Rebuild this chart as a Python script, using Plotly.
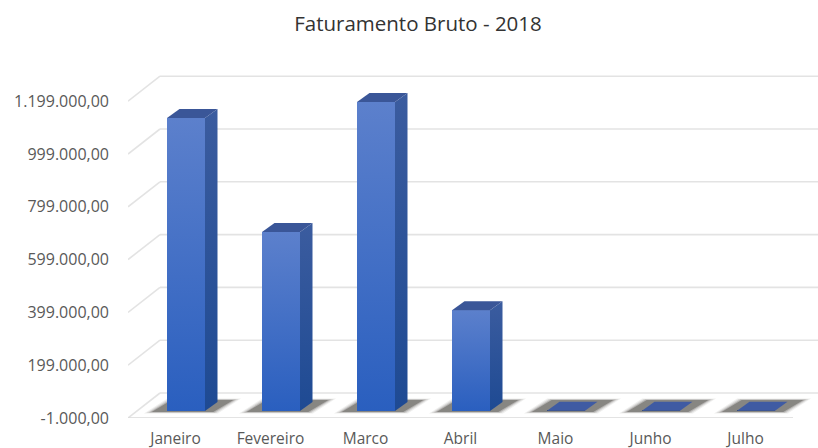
import plotly.graph_objects as go

categories = ["Janeiro", "Fevereiro", "Marco", "Abril", "Maio", "Junho", "Julho"]
faturamento = [1109000, 677000, 1169000, 381000, 0, 0, 0]
y_ticks = [-1000, 199000, 399000, 599000, 799000, 999000, 1199000]
y_labels = ["-1.000,00", "199.000,00", "399.000,00", "599.000,00", "799.000,00", "999.000,00", "1.199.000,00"]
title_text = "Faturamento Bruto - 2018"

W, H = 818, 448
LEFT, BOTTOM, TOP = 128, 418, 60
XS = 95.0            # px per category
YS = 52.8 / 200000   # px per value unit
YMIN = -1000
XMIN = -0.5
XMAX = XMIN + (W - LEFT) / XS
YMAX = YMIN + (BOTTOM - TOP) / YS

def dx(p):
    return p / XS

def dy(p):
    return p / YS

GRID = "#E3E3E3"
traces = []

def line(xs, ys, color=GRID, width=1.6, clip=True):
    traces.append(go.Scatter(x=xs, y=ys, mode="lines", hoverinfo="skip", cliponaxis=clip,
                             line=dict(color=color, width=width), showlegend=False))

def poly(xs, ys, color=None, gradient=None):
    kw = dict(fillgradient=gradient) if gradient else dict(fillcolor=color)
    traces.append(go.Scatter(x=xs + xs[:1], y=ys + ys[:1], mode="lines", fill="toself",
                             line=dict(width=0, color="rgba(0,0,0,0)"), hoverinfo="skip",
                             showlegend=False, **kw))

# back wall gridlines, left wall diagonals, floor
BACK_X, BACK_Y = dx(32), dy(25)
n = len(categories)
for t in y_ticks:
    line([XMIN + BACK_X, XMAX], [t + BACK_Y, t + BACK_Y])
    line([XMIN, XMIN + BACK_X], [t, t + BACK_Y])
line([XMIN, XMIN + n], [YMIN, YMIN], color="#DADADA", clip=False)
for i in range(n + 1):
    line([XMIN + i, XMIN + i], [YMIN, YMIN - dy(4)], color="#DADADA", width=1, clip=False)

# bar plane sits part-way into the floor depth
PLANE_X, PLANE_Y = dx(10.5), dy(7)
HALF = 0.2
SIDE_X, SIDE_Y = dx(12.5), dy(9)

# floor shadows, layered for a soft edge
for grow, alpha in [(8, 0.08), (5.5, 0.12), (3, 0.2), (0.5, 0.35)]:
    for i in range(n):
        c = i + PLANE_X
        b = YMIN + PLANE_Y
        poly([c + dx(-34 - grow), c + dx(27 + grow * 0.6), c + dx(47 + grow), c + dx(-14 - grow * 0.6)],
             [b - dy(1 + grow * 0.2), b - dy(1 + grow * 0.2), b + dy(11 + grow * 0.2), b + dy(11 + grow * 0.2)],
             color=f"rgba(50,45,40,{alpha})")

# real bars (front faces)
traces.insert(0, go.Bar(x=[i + PLANE_X for i in range(n)],
                        y=[v - YMIN for v in faturamento],
                        base=[YMIN + PLANE_Y] * n, width=HALF * 2,
                        marker=dict(color="#4470C6", line=dict(width=0)),
                        showlegend=False, hoverinfo="skip"))

front_grad = dict(type="vertical", colorscale=[[0, "#2A5FBF"], [1, "#5C80CC"]])
side_grad = dict(type="vertical", colorscale=[[0, "#1E4A93"], [1, "#3B5C9F"]])
for i, v in enumerate(faturamento):
    c = i + PLANE_X
    b = YMIN + PLANE_Y
    t = v + PLANE_Y
    l, r = c - HALF, c + HALF
    if v > 0:
        poly([r, r + SIDE_X, r + SIDE_X, r], [b, b + SIDE_Y, t + SIDE_Y, t], gradient=side_grad)
        poly([l, r, r, l], [b, b, t, t], gradient=front_grad)
    poly([l, r, r + SIDE_X, l + SIDE_X], [t, t, t + SIDE_Y, t + SIDE_Y],
         color="#3A5698" if v > 0 else "#3F5BA3")

fig = go.Figure(traces)
fig.update_layout(
    width=W, height=H, autosize=False,
    margin=dict(l=LEFT, r=0, t=TOP, b=H - BOTTOM, autoexpand=False),
    paper_bgcolor="white", plot_bgcolor="white", showlegend=False,
    font=dict(family="Open Sans, sans-serif", color="#595959", size=13),
    title=dict(text=title_text, x=0.511, xanchor="center", y=0.946, yanchor="middle",
               font=dict(family="Open Sans, sans-serif", size=20.5, color="#333333")),
    xaxis=dict(range=[XMIN, XMAX], tickmode="array", tickvals=list(range(n)), ticktext=categories,
               showgrid=False, zeroline=False, showline=False, ticks="", ticklabelstandoff=9, automargin=False,
               tickfont=dict(size=15.5), fixedrange=True),
    yaxis=dict(range=[YMIN, YMAX], tickmode="array", tickvals=y_ticks, ticktext=y_labels,
               showgrid=False, zeroline=False, showline=False, ticks="", ticklabelstandoff=18, automargin=False,
               tickfont=dict(size=16), fixedrange=True),
)
fig.write_html("out.html", config=dict(displayModeBar=False), post_script="document.body.style.margin='0';")
